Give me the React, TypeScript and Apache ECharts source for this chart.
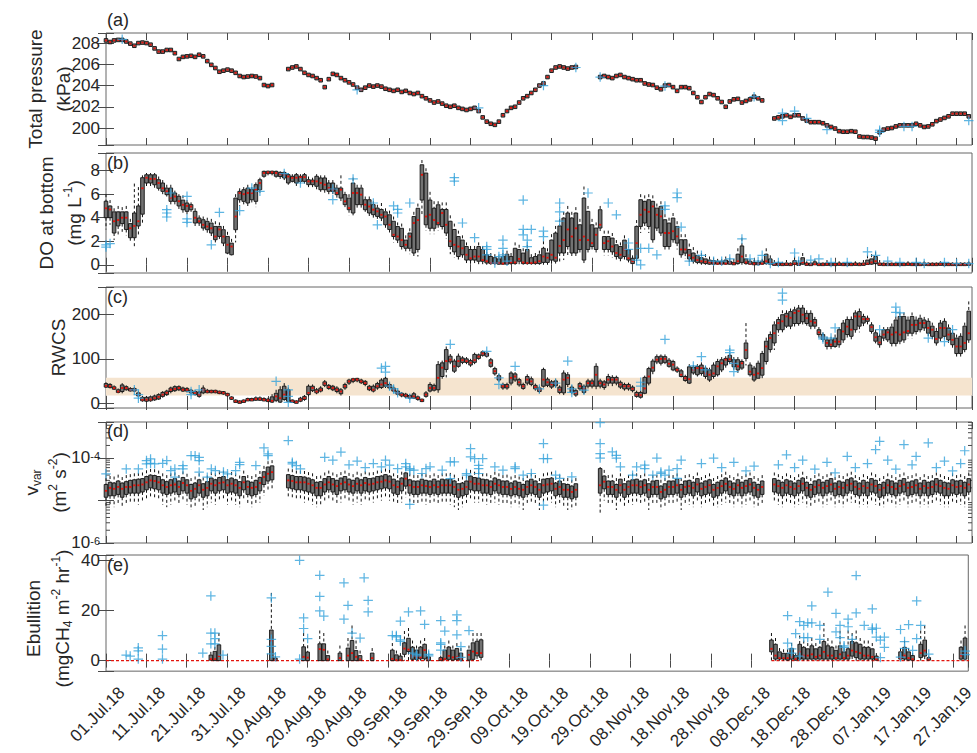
import React, { useEffect, useRef } from 'react';
import * as echarts from 'echarts';

// x axis: day index, 0 = 01.Jul.18
const tickLabels = ['01.Jul.18','11.Jul.18','21.Jul.18','31.Jul.18','10.Aug.18','20.Aug.18','30.Aug.18','09.Sep.18','19.Sep.18','29.Sep.18','09.Oct.18','19.Oct.18','29.Oct.18','08.Nov.18','18.Nov.18','28.Nov.18','08.Dec.18','18.Dec.18','28.Dec.18','07.Jan.19','17.Jan.19','27.Jan.19'];

// (a) total pressure, daily medians (kPa), index = day
const pressureMed = [
208.25,208.1,208.25,208.3,208.3,208.15,207.95,207.75,208.0,208.05,
208.0,207.85,207.5,207.2,207.2,207.35,207.35,207.05,206.5,206.7,
206.75,206.8,206.7,206.9,206.75,206.3,205.95,205.65,205.3,205.4,
205.5,205.4,205.2,204.9,204.8,204.85,204.9,204.85,204.7,204.05,
203.95,204.05,null,null,null,
205.55,205.7,205.8,205.55,205.2,205.0,204.9,204.7,204.5,203.85,
204.6,205.1,205.0,204.7,204.5,204.3,204.1,203.8,203.6,203.8,
204.0,203.9,204.0,203.9,203.7,203.6,203.5,203.6,203.4,203.5,
203.3,203.2,203.3,203.0,202.8,202.6,202.4,202.5,202.3,202.1,
202.0,202.1,201.9,201.8,201.7,201.8,201.9,201.6,201.0,200.6,
200.4,200.3,200.6,201.2,201.6,201.9,202.0,202.4,202.8,203.0,
203.3,203.6,204.0,204.2,204.8,205.4,205.7,205.8,205.7,205.6,205.7,205.75,
null,null,null,null,null,
204.8,204.9,204.8,204.7,204.9,205.0,204.8,204.7,204.6,204.5,
204.5,204.2,204.1,204.05,203.8,203.65,204.0,204.05,203.85,203.5,
203.85,203.85,203.75,203.3,202.9,202.45,202.9,203.2,203.1,202.8,
202.45,202.0,202.5,202.7,202.75,202.4,202.55,202.7,202.95,202.8,202.6,
null,null,
200.9,201.0,201.1,201.2,201.05,201.2,201.2,200.9,200.7,200.55,
200.55,200.55,200.45,200.25,200.1,199.95,199.7,199.65,199.65,199.7,
199.65,199.2,199.15,199.15,199.1,199.0,199.6,199.85,199.95,200.0,
200.15,200.25,200.25,200.25,200.25,200.4,200.25,200.1,200.15,200.35,
200.65,200.8,200.95,201.1,201.35,201.35,201.35,201.35,201.1
];
const pressureOutliers = [[4,208.35],[62,203.6],[92,201.9],[108,204.0],[116,205.7],[122,204.8],[138,203.95],[160,202.95],[167,201.4],[167,200.7],[170,201.6],[173,200.9],[178,199.85],[191,199.8],[191,199.6],[197,200.15],[199,200.15],[213,200.7]];

// (b) DO at bottom (mg/L): [lower whisker, q1, median, q3, upper whisker], index = day
const doStats = [
[3.0,4.0,4.8,5.4,6.0],[3.4,4.0,4.7,5.0,5.5],[2.1,2.7,3.7,4.5,4.8],[2.4,3.3,3.8,4.5,5.0],[2.8,3.5,4.0,4.5,4.9],
[2.5,3.0,4.0,4.5,5.0],[2.0,2.3,3.1,3.5,3.9],[1.5,2.3,3.3,4.4,6.9],[2.4,3.3,3.7,5.0,6.6],[3.5,4.3,6.5,7.4,7.6],
[6.5,6.95,7.4,7.65,7.8],[6.6,6.95,7.3,7.65,7.8],[6.5,6.8,7.3,7.65,7.8],[6.3,6.5,6.95,7.23,7.5],[6.0,6.24,6.5,6.95,7.2],
[5.8,5.96,6.24,6.52,6.8],[5.0,5.39,5.7,6.52,6.8],[5.1,5.39,5.8,6.1,6.3],[4.6,5.0,5.4,5.82,6.0],[4.4,4.68,5.1,5.5,5.9],
[4.2,4.54,5.0,5.25,5.5],[4.5,4.68,4.95,5.11,5.3],[3.2,3.55,4.0,4.54,4.8],[3.3,3.55,3.7,3.97,4.2],[2.9,3.12,3.4,3.83,4.1],
[2.7,2.98,3.25,3.69,4.0],[2.4,2.7,3.1,3.55,3.9],[1.9,2.13,2.4,3.26,3.7],[2.2,2.41,3.0,3.26,3.6],[1.5,1.84,2.4,2.98,3.3],
[0.9,0.99,1.7,2.41,2.8],[0.8,0.85,1.55,1.84,2.2],[1.9,2.98,4.1,5.67,6.0],[5.0,5.53,6.1,6.24,6.5],[5.0,5.39,6.0,6.38,6.6],
[4.9,5.25,6.1,6.52,6.8],[5.3,5.53,6.1,6.38,6.6],[4.9,5.39,6.4,6.81,7.0],[6.0,6.38,6.95,7.23,7.4],[7.4,7.52,7.8,7.94,8.0],
[7.6,7.8,7.85,7.94,8.0],[7.6,7.8,7.85,7.94,8.0],[7.4,7.52,7.8,7.94,8.0],[7.3,7.5,7.7,7.85,7.95],[7.2,7.38,7.65,7.85,7.95],
[6.8,6.95,7.5,7.66,7.8],[7.0,7.09,7.38,7.52,7.7],[6.7,6.95,7.4,7.66,7.8],[6.9,7.09,7.45,7.52,7.7],[6.9,7.09,7.45,7.66,7.8],
[6.6,6.81,7.09,7.23,7.5],[6.6,6.81,7.09,7.2,7.4],[6.4,6.67,7.09,7.52,7.7],[6.2,6.38,6.95,7.38,7.6],[6.1,6.38,6.81,7.38,7.6],
[6.0,6.24,6.52,6.95,7.2],[6.0,6.24,6.38,6.95,7.2],[5.7,5.96,6.1,6.52,6.8],[5.4,5.67,6.38,6.52,7.6],[4.9,5.11,5.39,5.96,6.2],
[4.2,4.68,4.82,5.67,6.0],[4.2,4.4,6.1,6.95,7.4],[4.8,5.11,6.1,6.52,6.8],[4.8,5.11,5.96,6.52,6.8],[4.5,4.68,5.11,5.53,5.8],
[4.1,4.4,4.95,5.53,5.8],[4.0,4.26,4.68,5.11,5.4],[3.9,4.11,4.54,4.82,5.1],[3.55,3.97,4.25,4.7,5.25],[3.0,3.4,4.1,4.5,4.8],
[2.6,3.0,3.4,4.25,4.6],[1.9,2.4,2.55,3.7,4.1],[1.7,2.1,2.4,3.25,3.6],[1.1,1.55,2.1,3.1,3.5],[1.0,1.4,1.7,2.1,2.5],
[0.9,1.4,2.4,2.7,3.1],[0.6,1.0,3.55,4.1,4.5],[0.7,1.3,3.8,4.8,5.2],[4.1,5.5,7.65,8.5,8.9],[2.9,3.4,4.1,7.8,8.2],
[2.6,3.1,4.25,5.5,6.2],[2.6,3.1,3.8,4.8,5.4],[2.9,3.4,3.55,5.1,5.4],[2.8,3.25,4.4,4.7,5.3],[2.2,2.7,3.4,4.7,5.3],
[0.9,1.55,2.0,3.7,4.2],[0.6,1.1,1.7,3.0,3.5],[0.3,0.7,1.55,2.4,2.9],[0.4,0.85,1.4,2.1,2.5],[0.1,0.4,0.85,1.55,1.9],
[0.1,0.4,0.55,1.3,1.6],[0.1,0.4,0.7,1.3,1.6],[0.05,0.3,0.7,1.55,1.9],[0.05,0.3,0.4,1.3,1.6],[0,0.15,0.3,0.85,1.1],
[0,0.1,0.15,0.7,1.0],[0,0.1,0.15,0.6,0.9],[0,0.05,0.15,0.5,0.8],[0,0.05,0.1,0.7,1.0],[0,0.05,0.15,0.9,1.2],
[0,0.1,0.2,0.7,1.0],[0,0.1,0.2,1.4,1.9],[0,0.3,0.5,1.3,1.7],[0,0.1,0.2,1.0,1.4],[0,0.1,0.15,1.3,1.7],
[0,0.1,0.15,0.6,0.9],[0,0.1,0.2,0.7,1.0],[0,0.1,0.3,0.85,1.2],[0,0.2,0.7,1.4,2.0],[0,0.2,0.6,1.0,1.4],
[0.1,0.4,0.85,2.1,2.6],[0.1,0.3,0.6,2.7,3.3],[0.2,1.0,1.6,3.3,3.9],[0.4,1.0,2.1,3.97,4.5],[0.8,1.55,3.0,4.4,5.0],
[0.6,1.0,2.4,3.97,4.5],[0.6,1.0,3.1,4.4,4.9],[1.0,1.3,2.1,3.4,3.9],[0.1,0.4,2.4,5.67,6.65],[1.0,1.3,2.1,4.54,5.0],
[1.2,1.55,1.84,3.4,3.9],[1.0,1.3,2.55,3.12,3.6],[2.8,3.12,3.4,4.68,5.0],[0.8,1.3,1.84,2.4,2.9],[0.8,1.3,2.0,2.4,2.9],
[0.6,1.1,1.55,2.27,2.7],[0.4,0.7,1.0,1.7,2.1],[0.3,0.55,0.85,1.55,1.9],[0.4,0.7,1.3,2.1,2.5],[0.2,0.4,0.55,1.28,1.7],
[0.05,0.1,0.3,0.55,0.8],[0.3,0.55,1.84,3.26,3.8],[2.7,3.26,4.25,5.53,6.0],[3.0,3.55,4.68,5.39,5.9],[2.7,3.26,4.5,5.53,6.0],
[1.7,2.13,4.96,5.39,5.9],[2.8,3.12,4.25,4.82,5.2],[2.4,2.7,4.11,4.96,5.4],[1.2,1.55,2.7,3.83,4.3],[1.2,1.55,2.7,3.55,4.0],
[1.7,2.13,2.85,3.97,4.4],[1.3,1.84,2.41,3.26,3.7],[0.6,0.85,1.3,2.13,2.6],[0.5,0.99,1.3,2.13,2.6],[0.2,0.5,0.8,1.3,1.8],
[0.1,0.3,0.6,1.0,1.5],[0.05,0.2,0.4,0.8,1.2],[0,0.15,0.3,0.6,1.0],[0,0.1,0.25,0.5,0.9],[0,0.05,0.2,0.4,0.7],
[0,0.05,0.15,0.35,0.6],[0,0.05,0.1,0.3,0.5],[0,0.05,0.1,0.3,0.5],[0,0.05,0.1,0.4,0.7],[0,0.05,0.15,0.3,0.6],
[0,0.05,0.1,0.25,0.5],[0,0.1,0.3,0.9,1.4],[0,0.2,0.7,1.6,2.3],[0,0.1,0.2,0.5,0.9],[0,0.05,0.1,0.3,0.5],
[0,0.05,0.1,0.25,0.4],[0,0.05,0.1,0.2,0.4],[0,0.05,0.1,0.3,0.5],[0,0.1,0.3,0.9,1.4],[0,0.05,0.2,0.5,0.8],
[0,0,0.05,0.2,0.4],[0,0,0.05,0.15,0.3],[0,0,0.03,0.1,0.25],[0,0,0.05,0.2,0.4],[0,0,0.03,0.1,0.2],
[0,0.02,0.1,0.35,0.7],[0,0,0.05,0.2,0.4],[0,0.05,0.2,0.6,1.0],[0,0,0.05,0.15,0.3],[0,0,0.03,0.1,0.25],
[0,0,0.05,0.25,0.45],[0,0,0.03,0.1,0.2],[0,0,0.03,0.1,0.2],[0,0,0.05,0.2,0.4],[0,0,0.03,0.1,0.2],
[0,0,0.03,0.1,0.2],[0,0,0.05,0.15,0.3],[0,0,0.03,0.1,0.2],[0,0,0.03,0.1,0.25],[0,0,0.03,0.1,0.2],
[0,0,0.05,0.15,0.3],[0,0,0.03,0.1,0.2],[0,0,0.05,0.2,0.4],[0,0.02,0.1,0.4,0.8],[0,0.05,0.2,0.5,0.9],
[0,0.1,0.3,0.7,1.1],[0,0,0.05,0.2,0.4],[0,0,0.03,0.1,0.2],[0,0,0.03,0.1,0.2],[0,0,0.03,0.1,0.2],
[0,0,0.03,0.1,0.25],[0,0,0.03,0.1,0.2],[0,0,0.03,0.1,0.2],[0,0,0.05,0.15,0.3],[0,0,0.03,0.1,0.2],
[0,0,0.03,0.1,0.2],[0,0,0.03,0.1,0.2],[0,0,0.05,0.15,0.3],[0,0,0.03,0.1,0.2],[0,0,0.03,0.1,0.2],
[0,0,0.03,0.1,0.2],[0,0,0.05,0.15,0.3],[0,0,0.03,0.1,0.2],[0,0,0.03,0.1,0.2],[0,0,0.03,0.1,0.2],
[0,0,0.03,0.1,0.2],[0,0,0.03,0.1,0.2],[0,0,0.03,0.1,0.2],[0,0,0.05,0.15,0.3]
];
const doOutliers = [[0,1.7],[0,1.5],[1,1.8],[15,4.68],[15,4.4],[15,4.06],[16,6.1],[20,5.82],[20,3.9],[20,3.6],[26,1.7],[28,4.45],[33,4.6],[36,6.52],[38,6.24],[44,7.75],[48,6.95],[56,6.44],[56,5.53],[61,7.3],[66,5.25],[67,3.4],
[71,5.0],[72,4.7],[72,4.4],[75,5.25],[86,7.4],[86,7.1],[88,3.55],[91,2.3],[94,1.55],[94,1.3],[94,0.85],[96,0.15],[97,0.7],[98,2.1],[98,1.4],[98,0.85],[99,0.3],[103,5.5],[103,3.0],[103,2.55],[104,2.1],[104,1.55],[105,3.0],[108,2.85],[108,2.4],[112,5.25],[112,4.5],[112,3.7],[119,6.1],[124,5.25],[126,4.25],[129,1.85],[129,1.3],[131,0.4],[132,1.4],[132,0.0],[134,1.4],[136,0.85],[138,5.0],[138,4.7],[141,6.1],[141,5.7],[142,3.2],
[144,0.3],[147,0.8],[150,0.3],[152,0.3],[154,0.5],[157,2.2],[159,0.5],[161,0.3],[162,0.8],[164,0.1],[166,0.2],[170,1.0],[171,0.3],[174,0.4],[176,0.5],[179,0.2],[183,0.2],[188,1.1],[190,0.8],[193,0.3],[196,0.2],[200,0.2],[202,0.1],[207,0.2],[210,0.1],[213,0.1]];

// (c) RWCS: [lower whisker, q1, median, q3, upper whisker], index = day
const rwcsStats = [
[34,36,39,44,47],[33,35,38,42,45],[30,32,34,37,40],[22,24,26,30,33],[22,26,34,41,45],
[28,30,34,37,40],[26,28,30,33,36],[25,27,30,33,36],[14,16,19,23,27],[3,5,7.5,13,16],
[2,4,7.5,13,16],[3,5,8,14,17],[5,7,11,16,19],[7,9,14,19,22],[12,15,19,24,27],
[16,19,23,27,30],[22,26,30,34,37],[25,28,32,37,40],[27,30,34,37,40],[25,27,30,34,37],
[24,27,30,33,36],[20,23,26,29,32],[17,19,23,26,29],[12,15,19,25,28],[20,23,30,34,40],
[22,24,26,29,32],[22,24,26,28,30],[22,24,26,28,30],[20,22,24,26,28],[19,21,23,25,27],
[15,17,19,21,23],[7,9,11,13,15],[1,2,4,6,8],[0,1,2,4,6],[1,2,4,6,8],
[4,5,7.5,10,12],[4,5,7.5,10,12],[5,7,9,12,15],[5,7,9,12,15],[4,6,7.5,10,13],
[2,4,6,9,12],[0,2,5,14,20],[2,6,15,22,30],[0,2,11,30,38],[5,8,19,38,45],
[2,4,23,30,35],[0,2,4,6,8],[0,1,2,4,6],[2,4,7.5,11,14],[5,8,11,15,18],
[15,19,23,38,42],[25,28,34,38,42],[20,23,26,30,34],[24,27,30,34,38],[36,40,44,48,52],
[30,33,36,40,43],[27,30,34,38,41],[22,26,30,34,38],[17,21,26,30,34],[30,34,38,42,46],
[41,45,49,52,55],[45,49,53,55,57],[47,50,53,55,57],[43,46,49,52,55],[38,42,45,49,52],
[27,30,34,38,41],[24,27,30,38,42],[30,34,38,44,48],[32,35,42,52,56],[34,38,45,56,60],
[30,34,38,42,46],[24,27,30,34,38],[17,20,23,27,30],[13,16,19,22,25],[11,14,17,20,23],
[8,11,14,17,20],[9,11,15,21,25],[5,8,11,14,17],[2,4,6,8,10],[12,15,19,23,27],
[24,27,34,42,47],[26,29,34,40,44],[22,30,57,87,95],[55,60,80,91,96],[58,76,95,121,128],
[88,93,98,106,111],[68,72,83,95,100],[80,83,95,106,112],[88,92,97,102,106],[88,92,95,100,104],
[82,86,91,96,100],[88,92,97,110,114],[98,101,105,109,112],[105,108,112,116,119],[103,106,110,113,116],
[80,83,91,98,102],[62,66,72,78,82],[48,52,57,62,66],[30,34,38,42,46],[30,34,38,42,46],
[40,45,57,68,72],[48,52,60,66,70],[37,41,47,53,57],[30,33,38,42,46],[40,45,53,60,65],
[38,42,49,55,60],[28,32,36,40,44],[22,26,30,34,38],[35,38,53,76,80],[36,40,47,54,58],
[32,36,42,48,52],[35,39,45,50,55],[20,24,30,36,40],[18,23,53,68,74],[36,42,57,64,70],
[20,24,30,36,40],[14,18,23,28,32],[28,32,38,44,48],[20,24,32,38,42],[33,38,45,50,55],
[33,38,45,50,55],[30,38,64,83,90],[33,38,45,50,55],[30,35,42,48,52],[38,45,53,60,66],
[38,45,53,58,63],[40,45,53,58,62],[32,36,42,47,51],[28,32,38,42,46],[28,32,38,42,46],
[24,28,32,36,40],[12,15,19,24,28],[10,13,18,24,28],[20,22,33,58,62],[40,45,60,78,82],
[65,72,80,95,100],[88,93,98,105,110],[85,90,100,106,110],[88,92,100,105,110],[80,83,89,97,102],
[72,75,87,94,98],[68,72,75,79,83],[58,60,64,73,77],[48,51,56,60,64],[43,45,54,82,88],
[64,68,75,81,86],[60,64,79,83,88],[62,67,79,86,92],[55,60,67,79,84],[48,52,64,75,80],
[55,60,67,86,92],[60,64,83,94,100],[70,75,90,98,104],[80,86,98,101,106],[88,94,99,108,113],
[75,82,90,98,104],[68,75,83,98,104],[75,79,90,94,99],[85,101,120,136,181],[60,64,71,86,92],
[48,52,64,79,84],[55,56,67,90,96],[55,63,79,112,118],[85,94,128,140,148],[110,121,147,155,162],
[120,136,158,177,185],[152,166,181,189,195],[160,166,185,200,210],[170,174,196,203,210],[165,174,193,207,214],
[172,180,204,211,218],[175,180,208,215,222],[178,184,200,215,222],[175,180,192,203,210],[165,174,185,203,210],
[168,174,182,189,195],[148,155,160,166,172],[139,144,149,155,160],[120,128,136,143,150],[122,128,132,143,150],
[125,128,139,147,155],[125,132,139,166,172],[135,143,162,181,188],[145,155,173,189,196],[140,151,166,189,196],
[155,166,196,204,210],[160,174,196,207,214],[172,181,190,196,202],[178,185,190,192,198],[157,162,172,177,183],
[135,140,149,159,166],[120,132,137,151,158],[138,147,155,166,172],[138,143,160,166,172],[128,135,155,172,180],
[125,135,160,188,196],[130,140,155,196,205],[135,143,160,196,205],[145,158,163,188,196],[145,158,177,196,205],
[155,162,177,188,196],[160,166,181,192,200],[162,170,181,188,195],[150,158,170,185,192],[140,151,166,174,182],
[130,136,145,162,170],[138,147,170,181,188],[140,151,170,185,192],[135,143,155,170,178],[125,132,143,158,165],
[105,112,128,147,155],[105,112,128,151,158],[115,121,136,174,182],[135,143,158,208,230]
];
const rwcsOutliers = [[7,30],[8,19],[8,11],[21,26],[21,19],[23,30],[42,49],[45,30],[45,15],[45,1.5],[68,79],[69,83],[69,70],[70,38],[71,32],[72,23],[75,11],[85,133],[94,117],[97,57],[97,42],[101,83],[107,32],[111,45],[114,95],[115,32],[115,24],[118,29],[132,47],[132,38],[138,144],[145,84],[147,105],[148,75],[154,120],[154,114],[155,90],[155,71],[167,249],[167,233],[177,149],[177,145],[179,147],[180,170],[191,166],[195,217],[195,205],[196,204],[203,147],[207,139],[209,166]];
const rwcsBand = [17, 57];

// (d) v_var in units of 1e-6 m2 s-2: [lower whisker, q1, median, q3, upper whisker], index = day
const vvarUnit = 1e-6;
const vvarStats = [
[7,12,17,24,34],[8,13,20,27,38],[7,13,19,26,37],[8,14,21,29,41],[7,12,19,26,36],
[8,14,21,28,40],[9,15,21,30,42],[9,15,23,31,44],[8,15,23,32,45],[9,16,24,33,46],
[10,18,27,37,52],[11,20,30,40,56],[11,19,29,39,55],[10,18,27,37,51],[8,15,23,31,44],
[7,14,21,28,40],[8,15,23,31,44],[9,16,24,33,46],[8,14,21,29,40],[10,17,26,35,49],
[8,15,23,31,43],[6,11,17,24,34],[7,12,19,26,37],[9,15,23,31,44],[6,12,18,25,35],
[7,13,20,28,39],[9,17,25,34,47],[8,15,23,31,44],[10,17,26,35,49],[10,18,27,37,51],
[8,15,23,31,44],[9,16,25,34,47],[8,15,23,31,44],[7,13,20,28,39],[10,18,27,37,51],
[8,14,21,29,40],[7,13,20,27,38],[8,14,21,30,42],[9,17,26,35,50],[13,24,36,48,66],
[16,29,43,62,85],[18,31,47,66,90],null,null,null,
[11,20,30,41,57],[11,19,29,39,55],[10,18,27,37,51],[10,18,27,37,51],[9,17,27,36,50],
[9,16,25,34,47],[8,15,23,31,44],[7,13,20,27,38],[8,13,20,28,39],[9,16,24,33,46],
[10,18,27,37,51],[9,16,24,33,46],[8,14,22,30,42],[9,17,25,34,47],[10,18,27,37,51],
[9,16,24,32,45],[8,15,22,30,42],[9,17,25,34,48],[8,15,23,31,44],[10,17,26,35,49],
[9,16,24,33,46],[9,17,25,34,47],[10,18,27,37,51],[10,19,28,38,53],[11,20,30,41,57],
[10,19,28,38,53],[9,15,23,32,44],[8,14,21,29,40],[9,17,25,34,48],[12,22,33,45,63],
[8,15,23,31,44],[8,14,21,29,40],[8,14,21,29,40],[9,15,23,32,44],[8,15,22,30,42],
[8,14,21,29,40],[9,15,23,32,44],[8,14,21,29,40],[9,15,23,32,44],[9,15,23,31,44],
[8,15,23,32,45],[7,14,21,29,41],[6,12,18,25,34],[7,13,19,26,37],[8,14,21,29,40],
[10,18,28,38,53],[9,17,25,35,48],[9,17,25,34,48],[9,15,23,32,44],[8,15,23,31,44],
[8,14,21,29,40],[9,17,25,34,48],[8,15,23,31,44],[8,14,21,29,40],[8,14,21,29,41],
[7,13,19,26,37],[8,14,21,29,40],[7,13,19,27,37],[6,12,18,24,34],[8,14,21,29,40],
[9,15,23,32,44],[8,14,21,29,40],[6,12,18,25,34],[9,15,23,32,44],[9,16,24,33,46],
[9,17,25,34,48],[7,13,19,26,37],[8,14,21,29,40],[7,12,18,25,34],[6,12,18,24,34],
[6,11,16,22,31],[7,12,18,25,34],null,null,null,null,null,
[5,15,23,57,62],[10,19,28,38,53],[8,14,21,29,40],[8,14,21,29,41],[6,12,18,24,34],
[9,15,23,32,44],[7,12,18,25,34],[8,14,21,29,40],[8,15,23,31,44],[9,15,23,32,44],
[8,14,21,29,40],[9,15,23,31,44],[6,12,18,25,34],[8,14,21,29,40],[8,14,21,30,41],
[6,11,16,22,31],[7,12,18,25,34],[8,14,21,29,40],[8,14,21,29,40],[9,15,23,32,44],
[6,12,18,24,34],[8,14,21,29,40],[8,15,22,30,42],[7,13,20,27,38],[9,16,24,33,46],
[7,13,19,26,36],[8,14,21,29,40],[9,15,23,31,44],[7,12,18,24,34],[7,13,20,27,38],
[8,15,22,30,42],[9,17,25,34,48],[8,14,21,29,40],[7,13,19,26,36],[9,15,23,31,44],
[7,13,20,27,38],[8,15,22,30,42],[9,16,24,33,46],[7,13,20,27,38],[7,12,18,24,34],
[8,14,21,29,40],null,null,
[9,16,24,33,46],[8,15,22,30,42],[7,13,20,27,38],[9,15,23,31,44],[8,14,21,29,40],
[7,13,19,26,36],[8,15,22,30,42],[9,17,25,34,48],[7,13,20,27,38],[7,12,18,24,34],
[8,14,21,29,40],[9,15,23,31,44],[7,13,20,27,38],[8,15,22,30,42],[9,16,24,33,46],
[7,13,19,26,36],[8,14,21,29,40],[7,13,20,27,38],[9,15,23,31,44],[9,17,25,34,48],
[8,14,21,29,40],[7,13,19,26,36],[8,15,22,30,42],[7,13,20,27,38],[9,16,24,33,46],
[8,15,22,30,42],[7,12,18,24,34],[7,13,20,27,38],[9,15,23,31,44],[8,14,21,29,40],
[7,13,19,26,36],[8,15,22,30,42],[9,16,24,33,46],[7,13,20,27,38],[8,14,21,29,40],
[9,15,23,31,44],[7,13,19,26,36],[8,15,22,30,42],[7,13,20,27,38],[8,14,21,29,40],
[9,16,24,33,46],[8,15,22,30,42],[7,13,20,27,38],[7,13,19,26,36],[9,15,23,31,44],
[8,14,21,29,40],[8,15,22,30,42],[7,13,20,27,38],[9,16,24,33,46]
];
const vvarOutliers = [[0,42.8],[5,56],[8,56],[10,73.6],[10,88],[11,96],[11,76],[12,73.6],[14,76],[15,88],[16,51],[17,56],[17,35.7],[19,67],[19,56],[21,115],[22,115],[23,105],[23,88],[23,47],[25,35.7],[26,56],[27,51],[29,47],[30,42.8],[32,51],[33,80],[33,71],[37,67],[39,175],[40,126],[40,115],[45,260],[46,80],[46,73.6],[47,67],[48,56],[54,105],
[56,90],[58,140],[60,70],[62,85],[64,60],[66,75],
[68,62.5],[69,89.7],[70,68.4],[72,57],[74,75],[74,62.5],[75,52.2],[75,57],[75,8.1],[76,52.2],[78,43.6],[79,57],[80,62.5],[83,52.2],[85,82],[86,82],[85,33],[90,169],[90,107],[91,98],[93,98],[92,68],[92,57],[92,43.6],[89,43.6],[89,39.8],[96,62.5],[98,52.2],[101,62.5],[101,57],[103,39.8],[105,43.6],[108,221],[108,98],[109,98],[108,7.8],[111,39.8],[112,33.3],[115,36.4],
[122,690],[122,221],[122,129],[122,101],[125,141],[126,117],[126,101],[127,62.5],[130,39.8],[131,62.5],[133,68.4],[133,57],[136,101],[135,39.8],[137,47],[137,43.6],[138,39.8],[139,52.2],[141,57],[141,33.3],[142,89.7],
[147,75],[150,100],[152,60],[155,80],[158,50],[160,65],[166,70],[168,120],[170,60],[172,90],[175,55],[178,80],[180,45],[183,110],[185,60],[188,75],[190,160],[191,250],[193,90],[195,55],[197,210],[199,70],[200,110],[203,230],[205,60],[207,85],[209,50],[211,75],[212,150]];

// (e) Ebullition: [day, lower whisker, q1, median, q3, upper whisker]
const ebStats = [
[26,0,0.2,0.6,2.2,3.5],[27,0,0,0.6,3.7,5.5],[28,0,0,1.8,6.3,11],[41,0,0,7.9,12.2,27],[42,0,0,0.2,1.0,2.0],
[49,0,0,1.5,5.5,11],[50,0,0,1.2,3.4,6.1],[53,0,0,4.6,6.7,12],[54,0,0,4.3,6.7,11],[55,0,0,0.5,2,4],
[58,0,0,1,3,6],[60,0,0,2,5,9],[61,0,0,3,8,14],[62,0,0,1.5,4,8],[63,0,0,0.5,2,4],[66,0,0,1,3,5],
[71,0,0,0.7,4.2,7],[72,0,0,0.2,2.3,4],[73,0,0,0.2,1.8,3],[74,0,2.5,4.8,7.1,11.8],[75,0,3.6,4.4,8.9,13],
[76,0,0.5,1.9,5.4,8],[77,0,0.5,1.5,4.2,6],[78,0,0.7,1.3,5.4,8],[79,0,0.7,4.2,6.5,9],[80,0,0,0.5,1.5,3],
[83,0,0,0.5,1.2,2],[84,0,0.5,0.7,4.2,6],[85,0,0.5,1.9,5.4,8],[86,0,0.2,1.3,4.2,6],[87,0,0.5,1.5,4.8,7],
[88,0,0.2,0.7,3,5],[90,0,0.2,2.3,4.2,6],[91,0,0.5,3.6,7.1,11],[92,0,1.9,3,7.7,11],[93,0,1.3,3,8.3,11],
[165,0,3.5,4.7,8.2,11],[166,0,0.6,2,6.5,9],[167,0,0.6,1,3.5,5],[168,0,0.6,1,2.9,4.5],[169,0,0.2,1,2.9,4.5],
[170,0,0.6,1.5,4.9,7],[171,0,0.2,0.6,2,3],[172,0,0.6,3.5,6.5,10],[173,0,0.6,2,5.3,8],[174,0,0.6,2,4.7,7],
[175,0,0.6,2.5,5.9,9],[176,0,0.6,1.5,4.7,7],[177,0,0.6,2,5.3,8],[178,0,0.6,3.5,7.6,15],[179,0,0.6,2,5.9,9],
[180,0,0.6,2,5.3,8],[181,0,0.6,1,4.1,6],[182,0,0.6,2.5,5.9,12],[183,0,0.6,1,3.5,5],[184,0,0.6,2,4.7,12],
[185,0,1.8,4,7.6,11],[186,0,1.2,3.5,7.1,12],[187,0,0.6,3,6.5,9],[188,0,0.6,2,5.3,8],[189,0,0.6,2,5.3,8],
[190,0,0.6,1.5,4.7,7],[191,0,0.2,0.5,1.8,3],[197,0,0.6,1,3.5,5],[198,0,0.6,2,5.3,8],[199,0,0.2,1,3.5,5],
[200,0,0.2,0.6,2,3],[202,0,1.2,3,6.5,12],[203,0,1.8,4,8.2,14],[204,0,0.2,0.5,1.2,2],[212,0,0.6,2,5.3,8],
[213,0,0.6,3,9,14]
];
const ebOutliers = [[5,2.2],[6,1.8],[8,5.1],[8,3.9],[8,0.6],[14,10],[14,4.6],[14,0.6],[24,3],[26,25.8],[26,11],[26,6.7],[27,11],[27,8.8],[27,6.7],[29,2.2],[41,8.5],[41,5.7],[41,2.7],[41,25],[42,1.5],[48,40],[48,0.6],[49,17],[49,12.8],[50,8.8],[53,34],[53,25.6],[53,19.8],[54,17.7],
[59,31],[59,16.5],[60,22],[61,11],[63,9],[64,33],[65,24],[65,19.4],
[71,10],[72,10],[72,9.5],[73,8.3],[73,7.7],[73,15.7],[75,19.4],[78,19.8],[79,14.4],[76,3],[77,2.5],[77,1.9],[80,2.5],[80,1.9],[83,15.9],[83,7.1],[83,6.5],[83,4.2],[84,11.8],[87,18.2],[87,15.9],[87,10.3],[88,5.6],[88,1.3],[90,12],
[169,17.9],[171,10.8],[169,7],[170,4.7],[170,3],[172,1.8],[172,15.5],[173,14],[174,15],[175,15],[173,9.2],[174,9.2],[175,21.8],[177,14],[177,8.5],[179,27.3],[181,18.8],[181,11.5],[182,14],[182,9.2],[184,16.5],[184,13.5],[183,5.9],[183,5.3],[186,33.9],[186,19],[185,8.5],[188,14],[190,20.6],[190,13],[190,12.4],[191,12.9],[191,9.4],[192,8.2],[192,1.2],[193,9.4],[193,5.3],[197,12.4],[197,1.4],[198,7.6],[198,4.9],[199,14.3],[200,4.1],[201,23.8],[201,8.8],[202,14],[204,2.6],[213,3.8],[213,2.4]];
const ebZeroSpans = [[0, 93], [165, 214]];

// ---------- layout / style ----------
const W = 977, H = 753;
const FONT = "'Liberation Sans', Arial, Helvetica, sans-serif";
const X_MIN = 0, X_MAX = 213.8;
const GRID_LEFT = 106, GRID_RIGHT = 5;
const TXT = '#262626';
const BORDER = '#666666';
const OUT_COLOR = '#36a2db';
const PLUS = 'path://M4.35,0H5.65V4.35H10V5.65H5.65V10H4.35V5.65H0V4.35H4.35Z';

type Row = [number, number | null, number | null, number, number | null, number | null];

function denseRows(stats: any[], scale = 1): Row[] {
  const rows: Row[] = [];
  stats.forEach((s, day) => {
    if (s) rows.push([day, s[0] * scale, s[1] * scale, s[2] * scale, s[3] * scale, s[4] * scale]);
  });
  return rows;
}

function makeBoxRender(rows: Row[], minH: number) {
  return (params: any, api: any) => {
    const r = rows[params.dataIndex];
    const [day, lo, q1, med, q3, hi] = r;
    const pm = api.coord([day, med]);
    const cx = pm[0];
    const w = 3.6;
    const kids: any[] = [];
    let yTop = q3 != null ? api.coord([day, q3])[1] : pm[1];
    let yBot = q1 != null ? api.coord([day, q1])[1] : pm[1];
    const dash = { stroke: '#111', lineWidth: 1, lineDash: [3, 2.5], fill: null };
    if (hi != null) {
      const yh = api.coord([day, hi])[1];
      if (yTop - yh > 0.5) kids.push({ type: 'line', shape: { x1: cx, y1: yh, x2: cx, y2: yTop }, style: dash });
    }
    if (lo != null) {
      const yl = api.coord([day, lo])[1];
      if (yl - yBot > 0.5) kids.push({ type: 'line', shape: { x1: cx, y1: yBot, x2: cx, y2: yl }, style: dash });
    }
    if (yBot - yTop < minH) { yTop = pm[1] - minH / 2; yBot = pm[1] + minH / 2; }
    kids.push({ type: 'rect', shape: { x: cx - w / 2, y: yTop, width: w, height: yBot - yTop }, style: { fill: '#727272', stroke: '#111', lineWidth: 0.9 } });
    kids.push({ type: 'rect', shape: { x: cx - 1.1, y: pm[1] - 0.9, width: 2.2, height: 1.8 }, style: { fill: '#e3140c' } });
    return { type: 'group', children: kids };
  };
}

const nearMultiple = (v: number, step: number) => Math.abs(v / step - Math.round(v / step)) < 1e-6;

export default function App() {
  const ref = useRef<HTMLDivElement>(null);
  useEffect(() => {
    if (!ref.current) return;
    const chart = echarts.init(ref.current, null, { renderer: 'svg' });

    const pressureRows: Row[] = [];
    pressureMed.forEach((m, day) => { if (m != null) pressureRows.push([day, null, null, m, null, null]); });
    const doRows = denseRows(doStats);
    const rwcsRows = denseRows(rwcsStats);
    const vvarRows = denseRows(vvarStats, vvarUnit);
    const ebRows: Row[] = ebStats.map((s) => [s[0], s[1], s[2], s[3], s[4], s[5]] as Row);

    const panels = [
      { top: 33, height: 112, min: 198.4, max: 208.95, split: 5, step: 2, type: 'value', rows: pressureRows, out: pressureOutliers, minH: 3.6 },
      { top: 153, height: 120, min: -0.7, max: 9.5, split: 5, step: 2, type: 'value', rows: doRows, out: doOutliers, minH: 2.4 },
      { top: 287, height: 121, min: -11.3, max: 262.7, split: 3, step: 100, type: 'value', rows: rwcsRows, out: rwcsOutliers, minH: 2.4 },
      { top: 422, height: 121, min: 1e-6, max: 7.15e-4, split: 3, step: 1, type: 'log', rows: vvarRows, out: vvarOutliers.map((p) => [p[0], p[1] * vvarUnit]), minH: 2.4 },
      { top: 555, height: 127, min: -4.2, max: 42.1, split: 3, step: 20, type: 'value', rows: ebRows, out: ebOutliers, minH: 2.4 },
    ];

    const grid: any[] = [];
    const xAxis: any[] = [];
    const yAxis: any[] = [];
    const series: any[] = [];
    const tickStyle = { color: '#4a4a4a', width: 1 };

    panels.forEach((p, i) => {
      grid.push({ left: GRID_LEFT, right: GRID_RIGHT, top: p.top, height: p.height, show: true, borderColor: BORDER, borderWidth: 1, backgroundColor: 'transparent' });
      const isLast = i === panels.length - 1;
      const xBase = {
        gridIndex: i, type: 'value', min: X_MIN, max: X_MAX, interval: 10,
        axisLine: { show: false }, splitLine: { show: false },
        axisTick: { show: true, inside: true, length: 7, lineStyle: tickStyle },
      };
      xAxis.push({
        ...xBase, position: 'bottom',
        axisLabel: isLast ? {
          show: true, rotate: 45, fontSize: 17, color: TXT, fontFamily: FONT, margin: 3,
          verticalAlign: 'top', padding: [14, 0, 0, 0],
          formatter: (v: number) => (nearMultiple(v, 10) ? (tickLabels[Math.round(v / 10)] || '') : ''),
        } : { show: false },
      });
      xAxis.push({ ...xBase, position: 'top', axisLabel: { show: false } });

      const yBase: any = {
        gridIndex: i, type: p.type, min: p.min, max: p.max, splitNumber: p.split,
        axisLine: { show: false }, splitLine: { show: false },
        axisTick: { show: true, inside: true, length: 8, lineStyle: tickStyle },
      };
      if (p.type === 'log') yBase.logBase = 10;
      const labelFmt = p.type === 'log'
        ? (v: number) => {
            const e = Math.log10(v);
            const r = Math.round(e);
            if (Math.abs(e - r) > 1e-4) return '';
            if (r === -4 || r === -6) return `{b|10}{s|${r}}`;
            return '';
          }
        : (v: number) => (nearMultiple(v, p.step) ? String(Math.round(v)) : '');
      yAxis.push({
        ...yBase, position: 'left',
        axisLabel: {
          show: true, fontSize: 17, color: TXT, fontFamily: FONT, margin: 6, formatter: labelFmt,
          lineHeight: 15,
          rich: {
            b: { fontSize: 17, fontFamily: FONT, color: TXT, lineHeight: 15, verticalAlign: 'bottom' },
            s: { fontSize: 11, fontFamily: FONT, color: TXT, lineHeight: 8, verticalAlign: 'top' },
          },
        },
      });
      yAxis.push({ ...yBase, position: 'right', axisLabel: { show: false } });

      const xi = 2 * i, yi = 2 * i;
      if (i === 2) {
        series.push({
          type: 'custom', xAxisIndex: xi, yAxisIndex: yi, z: 1, silent: true,
          data: [[X_MIN, rwcsBand[0]]],
          renderItem: (_pp: any, api: any) => {
            const a = api.coord([X_MIN, rwcsBand[1]]);
            const b = api.coord([X_MAX, rwcsBand[0]]);
            return { type: 'rect', shape: { x: a[0], y: a[1], width: b[0] - a[0], height: b[1] - a[1] }, style: { fill: '#f5e4cf' } };
          },
        });
      }
      if (p.type === 'log') {
        // minor log ticks (axis decoration), left and right
        series.push({
          type: 'custom', xAxisIndex: xi, yAxisIndex: yi, z: 2, silent: true,
          data: [[X_MIN, p.min]],
          renderItem: (_pp: any, api: any) => {
            const kids: any[] = [];
            for (let e = -6; e <= -4; e++) {
              for (let m = 2; m <= 9; m++) {
                const v = m * Math.pow(10, e);
                if (v >= p.max) continue;
                const L = api.coord([X_MIN, v]);
                const R = api.coord([X_MAX, v]);
                kids.push({ type: 'line', shape: { x1: L[0], y1: L[1], x2: L[0] + 4, y2: L[1] }, style: { stroke: '#4a4a4a', lineWidth: 1 } });
                kids.push({ type: 'line', shape: { x1: R[0] - 4, y1: R[1], x2: R[0], y2: R[1] }, style: { stroke: '#4a4a4a', lineWidth: 1 } });
              }
            }
            return { type: 'group', children: kids };
          },
        });
      }
      if (i === 4) {
        ebZeroSpans.forEach((sp) => {
          series.push({
            type: 'line', xAxisIndex: xi, yAxisIndex: yi, z: 2, silent: true, symbol: 'none',
            data: [[sp[0], 0], [sp[1], 0]],
            lineStyle: { color: '#e3140c', width: 1.3, type: [3, 2] },
          });
        });
      }
      series.push({
        type: 'custom', xAxisIndex: xi, yAxisIndex: yi, z: 3, silent: true,
        data: p.rows.map((r) => [r[0], r[3]]),
        encode: { x: 0, y: 1 },
        renderItem: makeBoxRender(p.rows, p.minH),
      });
      series.push({
        type: 'scatter', xAxisIndex: xi, yAxisIndex: yi, z: 4, silent: true,
        symbol: PLUS, symbolSize: 9.5,
        itemStyle: { color: OUT_COLOR },
        data: p.out,
      });
    });

    const letters = ['(a)', '(b)', '(c)', '(d)', '(e)'];
    const letterY = [20, 163, 297, 431, 565];
    const graphic: any[] = letters.map((t, i) => ({
      type: 'text', x: 107, y: letterY[i], z: 10,
      style: { text: t, fontSize: 18, fontFamily: FONT, fill: TXT, align: 'left', verticalAlign: 'middle' },
    }));

    const richY = {
      n: { fontSize: 19, fontFamily: FONT, fill: TXT, lineHeight: 24, verticalAlign: 'middle' },
      sup: { fontSize: 12, fontFamily: FONT, fill: TXT, lineHeight: 13, verticalAlign: 'top' },
      sub: { fontSize: 12, fontFamily: FONT, fill: TXT, lineHeight: 13, verticalAlign: 'bottom' },
    };
    const yLabels = [
      { lines: ['{n|Total pressure}', '{n|(kPa)}'], xs: [35, 63] },
      { lines: ['{n|DO at bottom}', '{n|(mg L}{sup|-1}{n|)}'], xs: [46, 74] },
      { lines: ['{n|RWCS}'], xs: [58] },
      { lines: ['{n|v}{sub|var}', '{n|(m}{sup|2}{n| s}{sup|-2}{n|)}'], xs: [31, 59] },
      { lines: ['{n|Ebullition}', '{n|(mgCH}{sub|4}{n| m}{sup|-2}{n| hr}{sup|-1}{n|)}'], xs: [33, 62] },
    ];
    yLabels.forEach((yl, i) => {
      const cy = panels[i].top + panels[i].height / 2;
      yl.lines.forEach((ln, k) => {
        graphic.push({
          type: 'text', x: yl.xs[k], y: cy, rotation: Math.PI / 2, z: 10,
          style: { text: ln, rich: richY, fontSize: 19, fontFamily: FONT, fill: TXT, align: 'center', verticalAlign: 'middle' },
        });
      });
    });

    chart.setOption({
      animation: false,
      backgroundColor: '#ffffff',
      textStyle: { fontFamily: FONT },
      grid, xAxis, yAxis, series, graphic,
    });
    return () => chart.dispose();
  }, []);

  return <div ref={ref} style={{ position: 'absolute', left: 0, top: 0, width: W, height: H }} />;
}
